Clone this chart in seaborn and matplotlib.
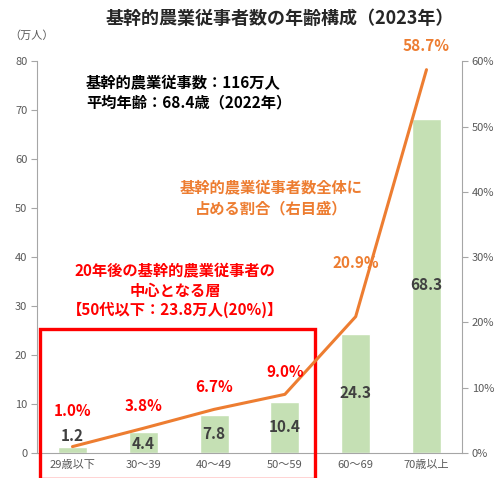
import numpy as np
import pandas as pd
import matplotlib
matplotlib.use("Agg")
import matplotlib.pyplot as plt
from matplotlib.patches import Rectangle
from matplotlib.ticker import FuncFormatter
import seaborn as sns

# データ
age_groups = ['29歳以下', '30～39', '40～49', '50～59', '60～69', '70歳以上']
workers = [1.2, 4.4, 7.8, 10.4, 24.3, 68.3]      # 万人
share_pct = [1.0, 3.8, 6.7, 9.0, 20.9, 58.7]      # %

GREEN = '#C5E0B4'
ORANGE = '#ED7D31'
RED = '#FF0000'
GRAY = '#595959'
DARK = '#404040'

sns.set_style('white')
plt.rcParams['font.family'] = ['Noto Sans CJK JP', 'DejaVu Sans']

df = pd.DataFrame({'age': age_groups, 'workers': workers, 'share': share_pct})

fig = plt.figure(figsize=(4.94, 4.78), dpi=100)
ax = fig.add_axes([0.075, 0.052, 0.86, 0.82])

sns.barplot(data=df, x='age', y='workers', color=GREEN, width=0.41,
            saturation=1, ax=ax)
ax.set_xlim(-0.5, 5.5)
ax.set_ylim(0, 80)
ax.set_yticks(range(0, 81, 10))
ax.set_xlabel('')
ax.set_ylabel('')
for s in ['top', 'right']:
    ax.spines[s].set_visible(False)
for s in ['left', 'bottom']:
    ax.spines[s].set_color('#A6A6A6')
    ax.spines[s].set_linewidth(0.8)
ax.tick_params(axis='y', length=4, color='#A6A6A6', labelsize=8, labelcolor=GRAY, pad=3)
ax.tick_params(axis='x', length=0, labelsize=8, labelcolor=GRAY, pad=5)

# 棒の数値（ラベル位置は左目盛の値）
bar_label_y = [3.6, 1.9, 3.9, 5.3, 12.2, 34.3]
for i, (v, ly) in enumerate(zip(workers, bar_label_y)):
    ax.text(i, ly, f'{v:.1f}', ha='center', va='center', fontsize=11,
            fontweight='bold', color=DARK)

# 割合（右目盛）
ax2 = ax.twinx()
sns.lineplot(x=np.arange(len(share_pct)), y=share_pct, color=ORANGE,
             linewidth=2.2, sort=False, ax=ax2)
ax2.set_ylim(0, 60)
ax2.set_yticks(range(0, 61, 10))
ax2.yaxis.set_major_formatter(FuncFormatter(lambda v, p: f'{int(v)}%'))
for s in ['top', 'left', 'bottom']:
    ax2.spines[s].set_visible(False)
ax2.spines['right'].set_color('#A6A6A6')
ax2.spines['right'].set_linewidth(0.8)
ax2.tick_params(axis='y', length=4, color='#A6A6A6', labelsize=8, labelcolor=GRAY, pad=3)
ax2.set_xlim(-0.5, 5.5)

pct_label_y = [6.4, 7.2, 10.1, 12.4, 29.1, 62.4]
for i, (p, ly) in enumerate(zip(share_pct, pct_label_y)):
    c = RED if i < 4 else ORANGE
    ax2.text(i, ly, f'{p:.1f}%', ha='center', va='center', fontsize=11,
             fontweight='bold', color=c, clip_on=False)

# 赤枠
rect = Rectangle((-0.46, -5.2), 3.89, 30.5, fill=False, edgecolor=RED,
                 linewidth=2.4, clip_on=False, transform=ax.transData, zorder=5)
ax.add_patch(rect)

# 注記
ax.text(0.19, 75.5, '基幹的農業従事数：116万人', fontsize=11, fontweight='bold',
        color='black', ha='left', va='center')
ax.text(0.19, 71.6, '平均年齢：68.4歳（2022年）', fontsize=11, fontweight='bold',
        color='black', ha='left', va='center')
ax.text(2.8, 52.0, '基幹的農業従事者数全体に\n占める割合（右目盛）', fontsize=11,
        fontweight='bold', color=ORANGE, ha='center', va='center', linespacing=1.3)
ax.text(1.45, 33.1, '20年後の基幹的農業従事者の\n中心となる層\n【50代以下：23.8万人(20%)】',
        fontsize=11, fontweight='bold', color=RED, ha='center', va='center',
        linespacing=1.25)

fig.text(0.567, 0.962, '基幹的農業従事者数の年齢構成（2023年）', ha='center',
         va='center', fontsize=13, fontweight='bold', color='#262626')
fig.text(0.018, 0.925, '（万人）', ha='left', va='center', fontsize=8, color=GRAY)

fig.savefig('out.png', dpi=100)
